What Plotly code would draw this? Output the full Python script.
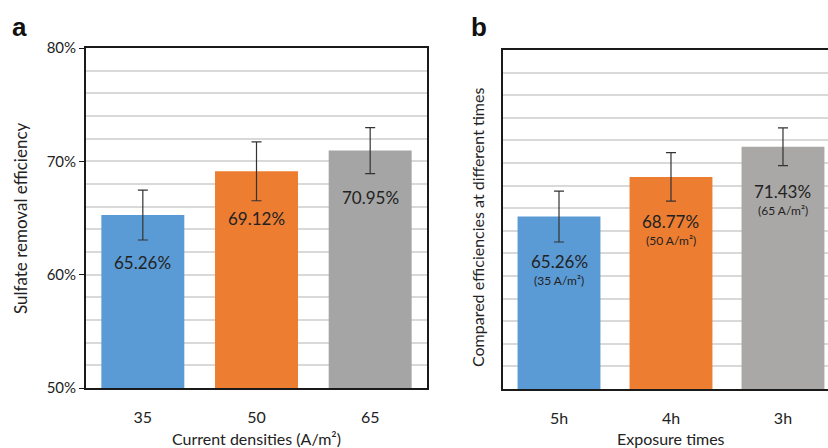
import plotly.graph_objects as go

# Panel a
cats_a = ["35", "50", "65"]
vals_a = [65.26, 69.12, 70.95]
err_a = [2.2, 2.6, 2.03]
labels_a = ["65.26%", "69.12%", "70.95%"]
colors_a = ["#5B9BD5", "#ED7D31", "#A5A5A5"]

# Panel b
cats_b = ["5h", "4h", "3h"]
vals_b = [65.26, 68.77, 71.43]
err_b = [2.25, 2.15, 1.67]
labels_b = ["65.26%", "68.77%", "71.43%"]
sub_b = ["(35 A/m²)", "(50 A/m²)", "(65 A/m²)"]
colors_b = ["#5B9BD5", "#ED7D31", "#AAA8A6"]

y_ticks = [50, 60, 70, 80]
y_ticktext = ["50%", "60%", "70%", "80%"]

FONT = "Lato, Carlito, sans-serif"
W, H = 828, 448

def px_x(p):
    return p / W

def px_y(p):
    return (H - p) / H

fig = go.Figure()
fig.add_trace(go.Bar(
    x=cats_a, y=vals_a, marker=dict(color=colors_a, line=dict(width=0)),
    width=0.73, xaxis="x", yaxis="y",
    error_y=dict(type="data", array=err_a, color="#333333", thickness=1.2, width=5),
    showlegend=False, hoverinfo="skip"))
fig.add_trace(go.Bar(
    x=cats_b, y=vals_b, marker=dict(color=colors_b, line=dict(width=0)),
    width=0.74, xaxis="x2", yaxis="y2",
    error_y=dict(type="data", array=err_b, color="#333333", thickness=1.2, width=5),
    showlegend=False, hoverinfo="skip"))

grid = "#D9D9D9"
common_y = dict(range=[50, 80], showgrid=True, gridcolor=grid, gridwidth=1.5,
                minor=dict(dtick=2, showgrid=True, gridcolor=grid, gridwidth=1.5, ticks=""),
                showline=True, linecolor="#1a1a1a", linewidth=1.8, mirror=True,
                zeroline=False, fixedrange=True, automargin=False)

fig.update_layout(
    width=W, height=H, margin=dict(l=0, r=0, t=0, b=0, pad=0, autoexpand=False),
    paper_bgcolor="white", plot_bgcolor="white",
    font=dict(family=FONT, color="#222222"),
    xaxis=dict(domain=[px_x(86), px_x(427)], range=[-0.5, 2.5], type="category",
               showline=True, linecolor="#1a1a1a", linewidth=1.8, mirror=True,
               ticks="", tickfont=dict(size=16, color="#222222"), ticklabelstandoff=14,
               anchor="y", fixedrange=True, automargin=False),
    yaxis=dict(domain=[px_y(388), px_y(48)], tickvals=y_ticks, ticktext=y_ticktext,
               ticks="outside", ticklen=5, tickcolor="#1a1a1a",
               tickfont=dict(size=15, color="#222222"), anchor="x", **common_y),
    xaxis2=dict(domain=[px_x(503), 1.0], range=[-0.5, 2.402], type="category",
                showline=True, linecolor="#1a1a1a", linewidth=1.8, mirror=True,
                ticks="", tickfont=dict(size=16, color="#222222"), ticklabelstandoff=14,
                anchor="y2", fixedrange=True, automargin=False),
    yaxis2=dict(domain=[px_y(389), px_y(50)], tickvals=y_ticks, showticklabels=False,
                ticks="", anchor="x2", **common_y),
)

ann = []
for i, (v, t) in enumerate(zip(vals_a, labels_a)):
    ann.append(dict(x=i, y=v, xref="x", yref="y", text=t, showarrow=False,
                    yshift=-47, font=dict(size=17, color="#222222")))
for i, (v, t, s) in enumerate(zip(vals_b, labels_b, sub_b)):
    ann.append(dict(x=i, y=v, xref="x2", yref="y2", text=t, showarrow=False,
                    yshift=-45, font=dict(size=17, color="#222222")))
    ann.append(dict(x=i, y=v, xref="x2", yref="y2", text=s, showarrow=False,
                    yshift=-64, font=dict(size=12, color="#222222")))

# panel letters
ann.append(dict(x=px_x(10), y=px_y(27), xref="paper", yref="paper", text="<b>a</b>",
                showarrow=False, xanchor="left", yanchor="middle",
                font=dict(size=26, family="Liberation Sans, Arial", color="#111111")))
ann.append(dict(x=px_x(469), y=px_y(27), xref="paper", yref="paper", text="<b>b</b>",
                showarrow=False, xanchor="left", yanchor="middle",
                font=dict(size=26, family="Liberation Sans, Arial", color="#111111")))
# axis titles
ann.append(dict(x=px_x(20), y=px_y(218), xref="paper", yref="paper",
                text="Sulfate removal efficiency", textangle=-90, showarrow=False,
                xanchor="center", yanchor="middle", font=dict(size=17, color="#222222")))
ann.append(dict(x=px_x(477), y=px_y(228), xref="paper", yref="paper",
                text="Compared efficiencies at different times", textangle=-90, showarrow=False,
                xanchor="center", yanchor="middle", font=dict(size=16, color="#222222")))
ann.append(dict(x=px_x(256), y=px_y(438), xref="paper", yref="paper",
                text="Current densities (A/m²)", showarrow=False,
                xanchor="center", yanchor="middle", font=dict(size=16, color="#222222")))
ann.append(dict(x=px_x(671), y=px_y(438), xref="paper", yref="paper",
                text="Exposure times", showarrow=False,
                xanchor="center", yanchor="middle", font=dict(size=16, color="#222222")))
fig.update_layout(annotations=ann)

fig.write_html("out.html", config={"displayModeBar": False},
               post_script="document.body.style.margin='0px';")
